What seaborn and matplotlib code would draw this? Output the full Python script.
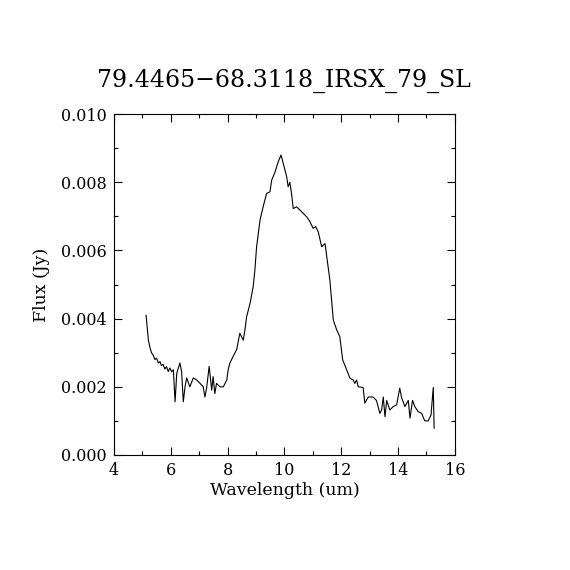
import numpy as np
import pandas as pd
import matplotlib
matplotlib.use("Agg")
import matplotlib.pyplot as plt
from matplotlib.ticker import MultipleLocator
import seaborn as sns

# spectrum
wavelength = [5.13, 5.21, 5.27, 5.32, 5.38, 5.44, 5.50, 5.56, 5.62, 5.67, 5.73, 5.79, 5.85,
              5.91, 5.97, 6.03, 6.09,
              6.15, 6.21, 6.32, 6.38, 6.44, 6.50, 6.56, 6.67, 6.79, 6.91,
              7.03, 7.14, 7.20, 7.26, 7.35, 7.44, 7.49, 7.55, 7.61, 7.73,
              7.85, 7.97, 8.02, 8.08, 8.20, 8.32, 8.43, 8.55, 8.61, 8.67,
              8.79, 8.90, 8.96, 9.02, 9.14, 9.25, 9.37, 9.49, 9.55, 9.67,
              9.78, 9.88, 9.96, 10.08, 10.13, 10.19, 10.25, 10.31, 10.43, 10.55,
              10.66, 10.78, 10.90, 11.01, 11.10, 11.19, 11.31, 11.43, 11.49, 11.60,
              11.66, 11.72, 11.84, 11.95, 12.05, 12.19, 12.31, 12.42, 12.48, 12.54,
              12.60, 12.77, 12.83, 12.95, 13.12, 13.24, 13.36, 13.42, 13.48, 13.54,
              13.60, 13.71, 13.83, 13.95, 14.06, 14.12, 14.24, 14.36, 14.42, 14.51,
              14.59, 14.71, 14.83, 14.94, 15.06, 15.16, 15.24, 15.27]
flux = [0.00410, 0.00337, 0.00314, 0.00300, 0.00293, 0.00280, 0.00284, 0.00270, 0.00274, 0.00262,
        0.00266, 0.00252, 0.00259, 0.00245, 0.00255, 0.00244, 0.00250,
        0.00156, 0.00240, 0.00270, 0.00245, 0.00156, 0.00200, 0.00226, 0.00200, 0.00226, 0.00220,
        0.00210, 0.00200, 0.00170, 0.00196, 0.00260, 0.00190, 0.00230, 0.00180, 0.00210, 0.00200,
        0.00200, 0.00220, 0.00250, 0.00270, 0.00290, 0.00310, 0.00357, 0.00337, 0.00367, 0.00406,
        0.00445, 0.00494, 0.00543, 0.00610, 0.00689, 0.00728, 0.00767, 0.00772, 0.00806, 0.00830,
        0.00860, 0.00880, 0.00855, 0.00816, 0.00787, 0.00800, 0.00767, 0.00723, 0.00728, 0.00718,
        0.00709, 0.00699, 0.00684, 0.00665, 0.00670, 0.00655, 0.00611, 0.00620, 0.00582, 0.00513,
        0.00455, 0.00396, 0.00367, 0.00347, 0.00279, 0.00250, 0.00225, 0.00220, 0.00210, 0.00220,
        0.00200, 0.00198, 0.00152, 0.00170, 0.00170, 0.00160, 0.00122, 0.00132, 0.00170, 0.00112,
        0.00160, 0.00132, 0.00142, 0.00147, 0.00196, 0.00170, 0.00142, 0.00160, 0.00108, 0.00160,
        0.00142, 0.00127, 0.00122, 0.00100, 0.00100, 0.00117, 0.00198, 0.00078]

df = pd.DataFrame({"wavelength": wavelength, "flux": flux})

sns.set_style("ticks")
plt.rcParams['font.family'] = ['DejaVu Serif']
plt.rcParams['text.color'] = 'black'
plt.rcParams['axes.labelcolor'] = 'black'
plt.rcParams['xtick.color'] = 'black'
plt.rcParams['ytick.color'] = 'black'

fig = plt.figure(figsize=(5.7, 5.7), dpi=100)
ax = fig.add_axes([0.2, 0.2018, 0.598, 0.598])

sns.lineplot(data=df, x="wavelength", y="flux", ax=ax, color="black",
             linewidth=0.8, sort=False, estimator=None)

ax.set_xlim(4, 16)
ax.set_ylim(0, 0.010)
ax.xaxis.set_major_locator(MultipleLocator(2))
ax.xaxis.set_minor_locator(MultipleLocator(1))
ax.yaxis.set_major_locator(MultipleLocator(0.002))
ax.yaxis.set_minor_locator(MultipleLocator(0.001))
ax.yaxis.set_major_formatter(matplotlib.ticker.FormatStrFormatter('%.3f'))
ax.tick_params(which='both', direction='in', top=True, right=True,
               color='black', labelcolor='black', labelsize=11.5, width=0.8)
ax.tick_params(which='major', length=6, pad=5)
ax.tick_params(which='minor', length=3)
for s in ax.spines.values():
    s.set_color('black')
    s.set_linewidth(0.8)

ax.set_xlabel("Wavelength (um)", fontsize=12.5, labelpad=2, color='black')
ax.set_ylabel("Flux (Jy)", fontsize=12.5, labelpad=8, color='black')
ax.set_title("79.4465\u221268.3118_IRSX_79_SL", fontsize=17, pad=20, color='black')

fig.savefig("out.png", dpi=100)
